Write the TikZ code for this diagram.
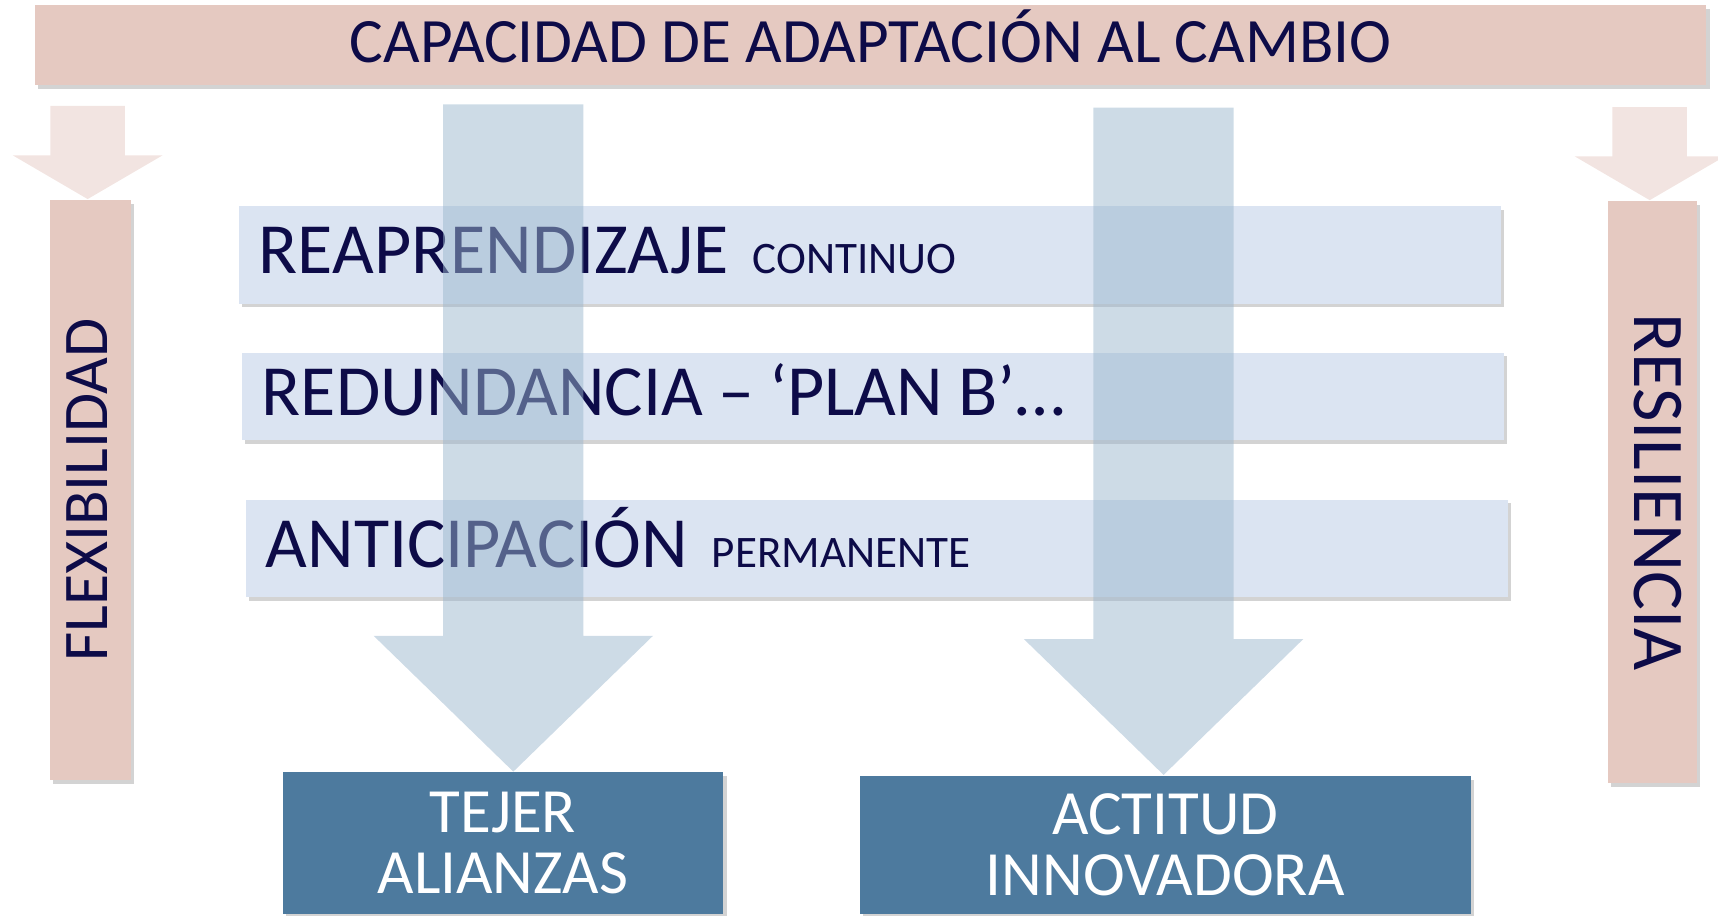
\documentclass[tikz,border=0pt]{standalone}
\usepackage{fontspec}
\setmainfont{Carlito}
\usepackage{xcolor}
\usepackage{tikz}
\usetikzlibrary{calc,shadows}

\definecolor{rose}{HTML}{E5C9C1}
\definecolor{rosepale}{HTML}{F2E4E1}
\definecolor{bleuclair}{HTML}{DBE4F2}
\definecolor{bleufleche}{HTML}{9BB7CD}
\definecolor{bleufonce}{HTML}{4D7A9E}
\definecolor{marine}{HTML}{0D0B48}

\begin{document}
\begin{tikzpicture}[x=0.01cm,y=-0.01cm]
    % Styles (MODIFIABLES)
    \tikzstyle{ombre}=[drop shadow={shadow xshift=0.03cm,shadow yshift=-0.035cm,opacity=0.35}]
    \tikzstyle{bandeau}=[fill=rose,ombre,inner sep=0pt,text=marine,font=\fontsize{16.4}{16.4}\selectfont]
    \tikzstyle{bande}=[fill=bleuclair,ombre,inner xsep=0.18cm,inner ysep=0pt,text width=11.15cm,align=left,text height=0.42cm,text depth=0.08cm,text=marine,font=\fontsize{18.7}{18.7}\selectfont]
    \tikzstyle{pilier}=[fill=rose,ombre,inner sep=0pt,text=marine]
    \tikzstyle{cible}=[fill=bleufonce,ombre,inner sep=0pt,text=white,align=center,font=\fontsize{16.35}{15.9}\selectfont]
    \tikzstyle{petiteFleche}=[fill=rosepale]
    \tikzstyle{grosseFleche}=[fill=bleufleche,fill opacity=0.5]
    \def\petit{\fontsize{11.7}{11.7}\selectfont}
    % Dimensions (MODIFIABLES)
    \def\DemiTige{64}
    \def\DemiTete{127.5}
    \def\HauteurTete{124}
    \def\HauteurTige{485}
    \def\DemiTigeP{34}
    \def\DemiTeteP{68.5}
    \def\HauteurTeteP{40}
    \def\HauteurTigeP{45}
    % Cadre
    \useasboundingbox (0,0) rectangle (1568,836);
    % Noeuds (MODIFIABLES : Styles et positions)
    \node[bandeau,minimum width=15.25cm,minimum height=0.73cm,text height=0.36cm,text depth=0.05cm] (C) at (794.5,41.5) {CAPACIDAD DE ADAPTACIÓN AL CAMBIO};
    \node[pilier,minimum width=0.74cm,minimum height=5.295cm,font=\fontsize{16.5}{16.5}\selectfont] (F) at (82.6,447.3) {\rotatebox{90}{FLEXIBILIDAD}\hspace*{0.06cm}};
    \node[pilier,minimum width=0.814cm,minimum height=5.313cm,font=\fontsize{18.9}{18.9}\selectfont] (R) at (1508.3,449.2) {\hspace*{0.1cm}\rotatebox{-90}{RESILIENCIA}};
    \node[bande,minimum height=0.89cm] (B1) at (794,232.5) {REAPRENDIZAJE {\petit CONTINUO}};
    \node[bande,minimum height=0.80cm] (B2) at (796.8,361.8) {\spaceskip=0.21em REDUNDANCIA – ‘PLAN B’…};
    \node[bande,minimum height=0.89cm] (B3) at (800.5,500.5) {ANTICIPACIÓN {\petit PERMANENTE}};
    \node[cible,minimum width=4.02cm,minimum height=1.29cm] (T) at (459,769.5) {TEJER\\ALIANZAS};
    \node[cible,minimum width=5.57cm,minimum height=1.26cm] (A) at (1063.5,771) {ACTITUD\\INNOVADORA};
    % Petites fleches
    \fill[petiteFleche] ($(F.north)+(-2.6,0)$) -- ++(-\DemiTeteP,-\HauteurTeteP) -- ++(\DemiTeteP-\DemiTigeP,0) -- ++(0,-\HauteurTigeP) -- ++(2*\DemiTigeP,0) -- ++(0,\HauteurTigeP) -- ++(\DemiTeteP-\DemiTigeP,0) -- cycle;
    \fill[petiteFleche] ($(R.north)+(-2.6,0)$) -- ++(-\DemiTeteP,-\HauteurTeteP) -- ++(\DemiTeteP-\DemiTigeP,0) -- ++(0,-\HauteurTigeP) -- ++(2*\DemiTigeP,0) -- ++(0,\HauteurTigeP) -- ++(\DemiTeteP-\DemiTigeP,0) -- cycle;
    % Grosses fleches
    \fill[grosseFleche] ($(T.north)+(9.5,0)$) -- ++(-\DemiTete,-\HauteurTete) -- ++(\DemiTete-\DemiTige,0) -- ++(0,-\HauteurTige) -- ++(2*\DemiTige,0) -- ++(0,\HauteurTige) -- ++(\DemiTete-\DemiTige,0) -- cycle;
    \fill[grosseFleche] ($(A.north)+(-1.5,0)$) -- ++(-\DemiTete,-\HauteurTete) -- ++(\DemiTete-\DemiTige,0) -- ++(0,-\HauteurTige) -- ++(2*\DemiTige,0) -- ++(0,\HauteurTige) -- ++(\DemiTete-\DemiTige,0) -- cycle;
\end{tikzpicture}
\end{document}
